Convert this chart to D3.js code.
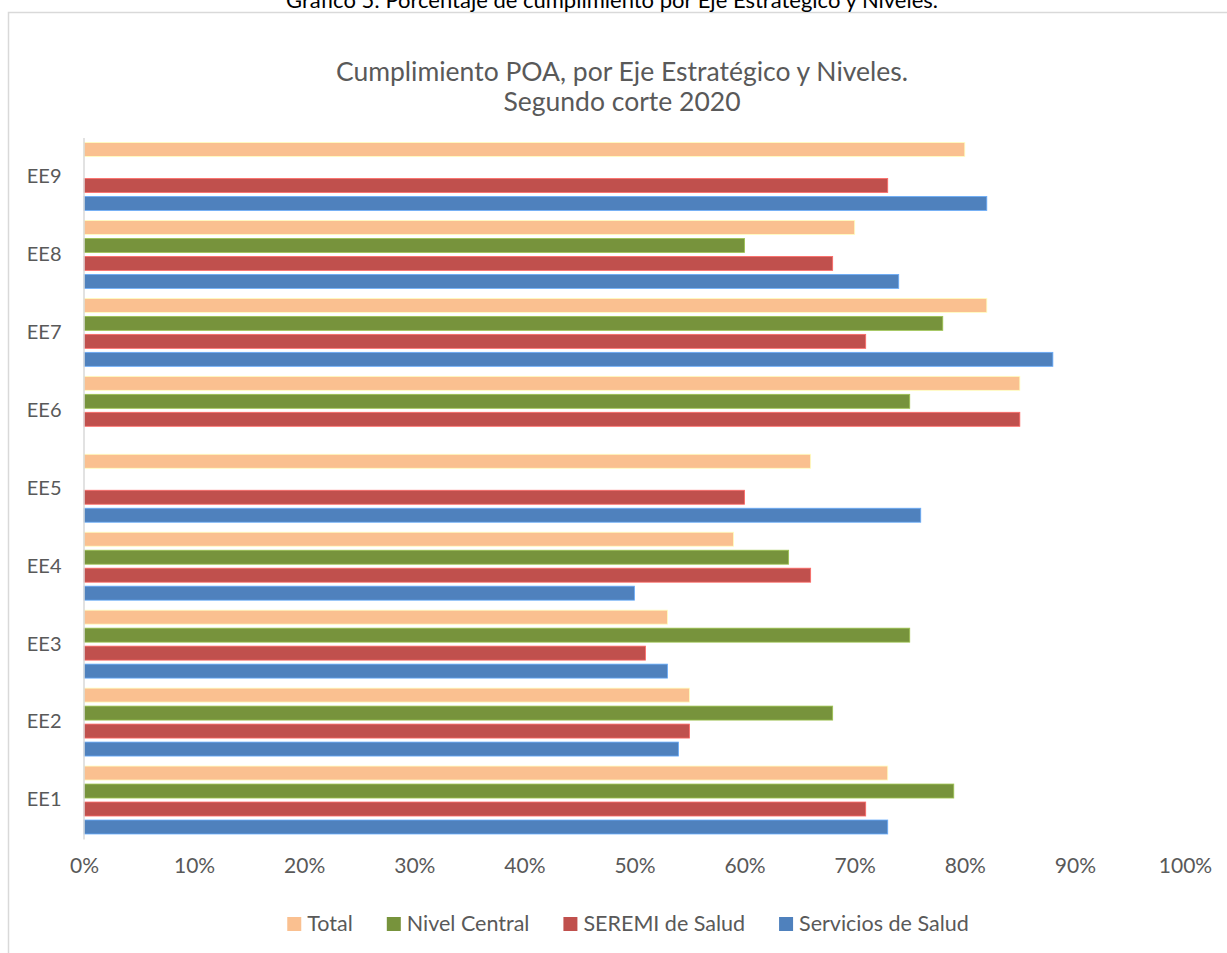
<!DOCTYPE html>
<html>
<head>
<meta charset="utf-8">
<script src="https://cdn.jsdelivr.net/npm/d3@7"></script>
<style>
  body { margin: 0; background: #fff; }
  svg { display: block; font-family: Lato, "Open Sans", sans-serif; }
</style>
</head>
<body>
<div></div>
<script>
const width = 1227;
const height = 953;

// data (percent)
const categories = ['EE1', 'EE2', 'EE3', 'EE4', 'EE5', 'EE6', 'EE7', 'EE8', 'EE9'];
const seriesNames = ['Total', 'Nivel Central', 'SEREMI de Salud', 'Servicios de Salud'];
const total = [73, 55, 53, 59, 66, 85, 82, 70, 80];
const nivelCentral = [79, 68, 75, 64, null, 75, 78, 60, null];
const seremi = [71, 55, 51, 66, 60, 85, 71, 68, 73];
const servicios = [73, 54, 53, 50, 76, null, 88, 74, 82];
const xTicks = [0, 10, 20, 30, 40, 50, 60, 70, 80, 90, 100];
const colors = ['#FAC090', '#77933C', '#C0504D', '#4F81BD'];

const values = [total, nivelCentral, seremi, servicios];
const rows = [];
categories.forEach((c, i) => {
    seriesNames.forEach((s, j) => {
        if (values[j][i] != null) rows.push({cat: c, series: s, value: values[j][i]});
    });
});

const svg = d3.select('div').append('svg').attr('width', width).attr('height', height);

// chart frame (runs off the right and bottom edges)
svg.append('path')
    .attr('d', 'M8.5,' + (height + 5) + ' V12.5 H' + (width + 5))
    .attr('fill', 'none').attr('stroke', '#d9d9d9').attr('stroke-width', 1.5);

// caption above the frame, partly off the page top as in the source
svg.append('text')
    .attr('x', 612).attr('y', 8)
    .attr('text-anchor', 'middle')
    .attr('font-size', 22).attr('fill', '#000')
    .text('Gráfico 5: Porcentaje de cumplimiento por Eje Estratégico y Niveles.');

const title = svg.append('text')
    .attr('text-anchor', 'middle')
    .attr('font-size', 26.5).attr('fill', '#595959');
title.append('tspan').attr('x', 622).attr('y', 81).text('Cumplimiento POA, por Eje Estratégico y Niveles.');
title.append('tspan').attr('x', 622).attr('y', 111).text('Segundo corte 2020');

const x = d3.scaleLinear().domain([0, 100]).range([84, 1185]);
const y = d3.scaleBand().domain(categories.slice().reverse()).range([137.5, 839]).padding(0);
const yInner = d3.scaleBand().domain(seriesNames).range([5, y.bandwidth() - 5]).paddingInner(0.222);

svg.append('g').selectAll('rect')
    .data(rows).enter().append('rect')
    .attr('x', x(0))
    .attr('y', d => y(d.cat) + yInner(d.series))
    .attr('width', d => x(d.value) - x(0))
    .attr('height', yInner.bandwidth())
    .attr('fill', d => colors[seriesNames.indexOf(d.series)])
    .attr('stroke', d => d3.color(colors[seriesNames.indexOf(d.series)]).brighter(0.8))
    .attr('stroke-width', 0.8);

// category axis
const yAxis = svg.append('g')
    .attr('transform', 'translate(83.5,0)')
    .call(d3.axisLeft(y).tickSize(0).tickSizeOuter(0).tickPadding(22));
yAxis.select('.domain').attr('stroke', '#d9d9d9').attr('stroke-width', 1.5);
yAxis.selectAll('text').attr('font-size', 20).attr('fill', '#595959').attr('font-family', 'Lato, sans-serif');

// value axis labels only
const xAxis = svg.append('g')
    .attr('transform', 'translate(0,858)')
    .call(d3.axisBottom(x).tickValues(xTicks).tickFormat(d => d + '%').tickSize(0).tickPadding(0));
xAxis.select('.domain').remove();
xAxis.selectAll('text').attr('font-size', 21).attr('fill', '#595959').attr('font-family', 'Lato, sans-serif');

// legend
const legend = svg.append('g');
let lx = 0;
seriesNames.forEach((s, i) => {
    const item = legend.append('g').attr('transform', 'translate(' + lx + ',0)');
    item.append('rect').attr('x', 0).attr('y', 917).attr('width', 14).attr('height', 14).attr('fill', colors[i]);
    const t = item.append('text').attr('x', 20).attr('y', 931)
        .attr('font-size', 21.5).attr('fill', '#595959').text(s);
    lx += 20 + t.node().getComputedTextLength() + 34;
});
const legendWidth = lx - 34;
legend.attr('transform', 'translate(' + (628 - legendWidth / 2) + ',0)');
</script>
</body>
</html>
